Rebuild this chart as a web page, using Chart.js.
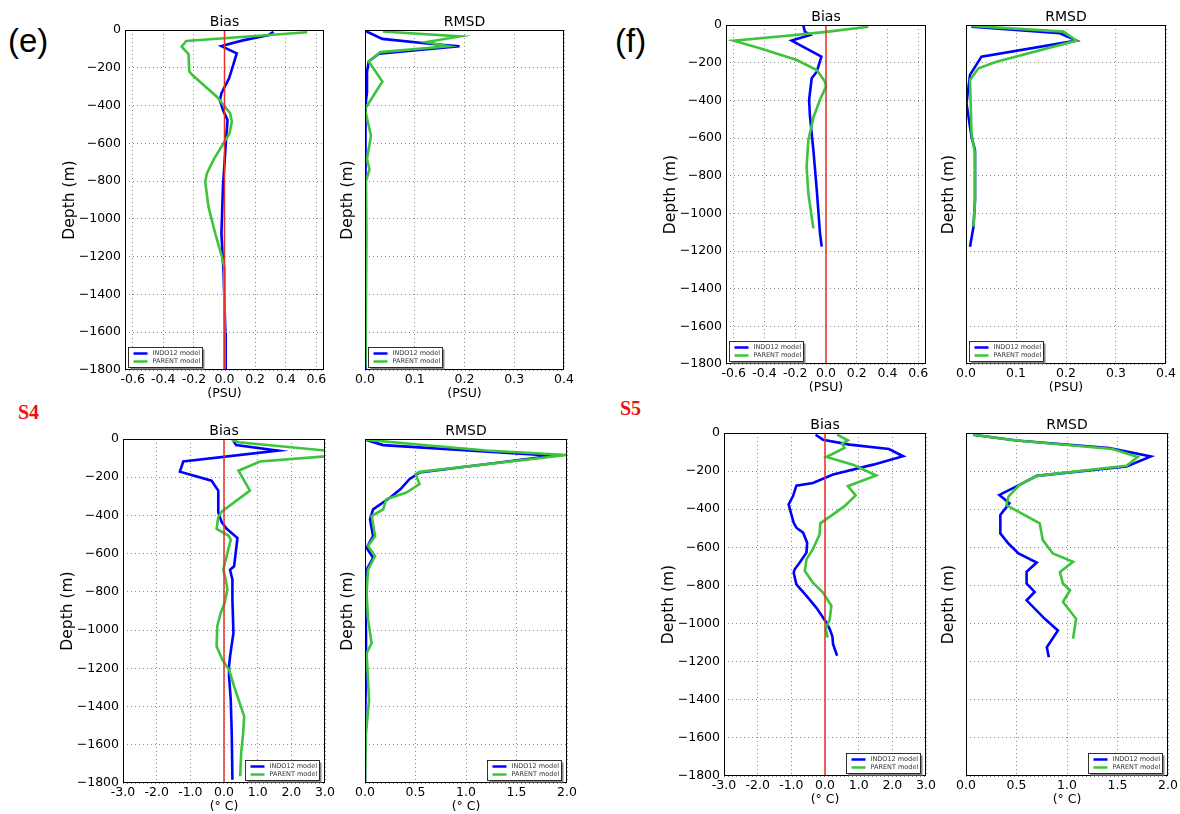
<!DOCTYPE html>
<html>
<head>
<meta charset="utf-8">
<script src="https://cdn.jsdelivr.net/npm/chart.js@4.4.1/dist/chart.umd.min.js"></script>
<style>
body { margin: 0; width: 1180px; height: 814px; overflow: hidden; background: #fff; position: relative; }
canvas { position: absolute; }
.tag { position: absolute; white-space: nowrap; }
.panel { font: 33px/33px 'Liberation Sans', Arial, sans-serif; color: #000; }
.station { font: bold 20px/20px 'Liberation Serif', 'Times New Roman', serif; color: #ee1111; }
</style>
</head>
<body>
<div class="tag panel" style="left:8px;top:24px">(e)</div>
<div class="tag panel" style="left:615px;top:24px">(f)</div>
<div class="tag station" style="left:18px;top:402px">S4</div>
<div class="tag station" style="left:620px;top:398px">S5</div>

<canvas id="eBias" width="285" height="396" style="left:53px;top:8px"></canvas>
<canvas id="eRmsd" width="243" height="396" style="left:335px;top:8px"></canvas>
<canvas id="fBias" width="286" height="395" style="left:654px;top:3px"></canvas>
<canvas id="fRmsd" width="244" height="395" style="left:936px;top:3px"></canvas>
<canvas id="s4Bias" width="288" height="400" style="left:51px;top:417px"></canvas>
<canvas id="s4Rmsd" width="246" height="400" style="left:335px;top:417px"></canvas>
<canvas id="s5Bias" width="288" height="399" style="left:652px;top:411px"></canvas>
<canvas id="s5Rmsd" width="246" height="399" style="left:936px;top:411px"></canvas>

<script>
// axis ticks and ranges
var depthTicks = [0, -200, -400, -600, -800, -1000, -1200, -1400, -1600, -1800];
var depthRange = [-1800, 0];
var saltBiasTicks = [-0.6, -0.4, -0.2, 0.0, 0.2, 0.4, 0.6];
var saltBiasRange = [-0.65, 0.65];
var saltRmsdTicks = [0.0, 0.1, 0.2, 0.3, 0.4];
var saltRmsdRange = [0, 0.4];
var tempBiasTicks = [-3, -2, -1, 0, 1, 2, 3];
var tempBiasRange = [-3, 3];
var tempRmsdTicks = [0, 0.5, 1, 1.5, 2];
var tempRmsdRange = [0, 2];

// zero reference line of the bias plots
var zeroDepth = [0, -1800];
var zeroVals = [0, 0];

// (e) salinity bias
var eBiasIndoDepth = [-9, -26, -55, -85, -124, -256, -335, -371, -424, -476, -582, -829, -1076, -1288, -1606, -1800];
var eBiasIndo = [0.32, 0.29, 0.12, -0.02, 0.08, 0.03, -0.02, -0.03, -0.01, 0.02, 0.01, -0.01, -0.02, -0.006, 0.006, 0.008];
var eBiasParentDepth = [-12, -58, -88, -127, -220, -238, -353, -441, -485, -547, -600, -688, -759, -803, -935, -1076, -1200, -1253, -1800];
var eBiasParent = [0.54, -0.25, -0.28, -0.235, -0.23, -0.21, -0.05, 0.037, 0.048, 0.033, -0.007, -0.072, -0.115, -0.126, -0.105, -0.061, -0.017, -0.002, 0.0];

// (e) salinity RMSD
var eRmsdIndoDepth = [-4, -47, -73, -86, -126, -167, -223, -330, -418, -560, -800, -1200, -1800];
var eRmsdIndo = [0.0, 0.035, 0.13, 0.19, 0.028, 0.0075, 0.004, 0.004, 0.0, 0.002, 0.001, 0.001, 0.0];
var eRmsdParentDepth = [-8, -34, -64, -86, -117, -167, -273, -418, -560, -685, -738, -800, -1074, -1782];
var eRmsdParent = [0.036, 0.191, 0.123, 0.167, 0.031, 0.0075, 0.035, 0.0, 0.012, 0.004, 0.009, 0.002, 0.003, 0.001];

// (f) salinity bias
var fBiasIndoDepth = [-5, -35, -53, -83, -168, -248, -283, -398, -487, -664, -876, -1106, -1177];
var fBiasIndo = [-0.147, -0.137, -0.104, -0.223, -0.03, -0.06, -0.093, -0.11, -0.104, -0.082, -0.06, -0.039, -0.028];
var fBiasParentDepth = [-9, -35, -53, -83, -124, -186, -239, -301, -327, -398, -487, -611, -752, -894, -1018, -1080];
var fBiasParent = [0.275, 0.015, -0.2, -0.6, -0.43, -0.19, -0.06, -0.006, 0.0, -0.04, -0.08, -0.115, -0.126, -0.115, -0.093, -0.082];

// (f) salinity RMSD
var fRmsdIndoDepth = [-9, -44, -83, -168, -265, -416, -593, -664, -929, -1071, -1177];
var fRmsdIndo = [0.011, 0.188, 0.221, 0.031, 0.008, 0.001, 0.011, 0.018, 0.018, 0.015, 0.008];
var fRmsdParentDepth = [-5, -35, -83, -195, -230, -292, -575, -681, -929, -1071];
var fRmsdParent = [0.011, 0.195, 0.221, 0.061, 0.025, 0.008, 0.011, 0.018, 0.018, 0.015];

// S4 temperature bias
var s4BiasIndoDepth = [-9, -31, -61, -118, -171, -218, -270, -383, -435, -470, -518, -666, -684, -736, -840, -1015, -1137, -1190, -1242, -1364, -1538, -1783];
var s4BiasIndo = [0.28, 0.36, 1.61, -1.21, -1.31, -0.37, -0.17, -0.17, -0.07, 0.08, 0.40, 0.30, 0.18, 0.25, 0.25, 0.28, 0.18, 0.15, 0.15, 0.2, 0.23, 0.25];
var s4BiasParentDepth = [-4, -17, -65, -88, -118, -166, -270, -380, -409, -470, -505, -527, -597, -684, -736, -788, -858, -911, -980, -1085, -1155, -1207, -1294, -1399, -1451, -1538, -1643, -1765];
var s4BiasParent = [0.23, 0.43, 3.3, 3.2, 1.07, 0.43, 0.77, -0.07, -0.17, -0.22, 0.13, 0.2, 0.1, -0.02, 0.05, 0.1, 0.02, -0.1, -0.2, -0.22, -0.05, 0.15, 0.3, 0.5, 0.6, 0.57, 0.51, 0.48];

// S4 temperature RMSD
var s4RmsdIndoDepth = [-3, -32, -88, -123, -175, -210, -263, -306, -368, -420, -508, -569, -622, -683, -770, -1016, -1190, -1541, -1800];
var s4RmsdIndo = [0.0, 0.18, 1.86, 1.33, 0.54, 0.44, 0.35, 0.25, 0.08, 0.05, 0.08, 0.016, 0.08, 0.016, 0.0, 0.01, 0.01, 0.0, 0.0];
var s4RmsdParentDepth = [-3, -30, -60, -84, -172, -184, -236, -280, -315, -368, -403, -508, -560, -613, -683, -805, -945, -1068, -1120, -1366, -1541, -1800];
var s4RmsdParent = [0.0, 0.55, 1.2, 2.0, 0.54, 0.5, 0.54, 0.41, 0.21, 0.18, 0.066, 0.1, 0.03, 0.1, 0.03, 0.016, 0.03, 0.066, 0.016, 0.04, 0.01, 0.0];

// S5 temperature bias
var s5BiasIndoDepth = [-9, -35, -61, -84, -122, -166, -218, -262, -276, -331, -375, -427, -471, -497, -523, -576, -628, -680, -715, -733, -794, -855, -916, -994, -1029, -1068, -1108, -1169];
var s5BiasIndo = [-0.28, -0.06, 0.73, 1.90, 2.32, 1.43, 0.24, -0.36, -0.85, -0.95, -1.08, -1.0, -0.93, -0.85, -0.65, -0.53, -0.55, -0.75, -0.9, -0.93, -0.85, -0.55, -0.26, 0.04, 0.14, 0.22, 0.24, 0.36];
var s5BiasParentDepth = [-9, -38, -56, -78, -126, -166, -223, -279, -328, -384, -427, -474, -532, -610, -663, -724, -785, -837, -907, -977, -1029, -1073];
var s5BiasParent = [0.36, 0.68, 0.51, 0.58, 0.04, 0.83, 1.52, 0.68, 0.91, 0.58, 0.24, -0.14, -0.16, -0.36, -0.55, -0.6, -0.36, -0.06, 0.19, 0.14, 0.02, 0.08];

// S5 temperature RMSD
var s5RmsdIndoDepth = [-9, -39, -79, -123, -176, -225, -272, -325, -369, -430, -527, -580, -632, -680, -729, -790, -834, -878, -975, -1036, -1124, -1177];
var s5RmsdIndo = [0.07, 0.5, 1.42, 1.83, 1.59, 0.7, 0.53, 0.33, 0.43, 0.34, 0.34, 0.42, 0.52, 0.7, 0.6, 0.6, 0.68, 0.6, 0.78, 0.91, 0.8, 0.82];
var s5RmsdParentDepth = [-9, -39, -84, -126, -172, -225, -272, -334, -378, -474, -562, -632, -676, -729, -790, -825, -887, -975, -1080];
var s5RmsdParent = [0.07, 0.5, 1.45, 1.7, 1.59, 0.7, 0.53, 0.42, 0.4, 0.73, 0.76, 0.86, 1.06, 0.93, 0.96, 1.03, 0.96, 1.09, 1.06];

var indoColor = '#0000ff';
var parentColor = '#3cc43c';
var zeroColor = '#e8302a';

Chart.defaults.font.family = "'DejaVu Sans', sans-serif";
Chart.defaults.color = '#000';

function points(depth, vals) {
    return depth.map(function (d, i) { return {x: vals[i], y: d}; });
}

function fixedTicks(list) {
    return function (axis) {
        axis.ticks = list.map(function (v) { return {value: v}; });
    };
}

// black frame round the plot area
var framePlugin = {
    id: 'frame',
    afterDatasetsDraw: function (chart) {
        var a = chart.chartArea, ctx = chart.ctx;
        ctx.save();
        ctx.strokeStyle = '#000';
        ctx.lineWidth = 1;
        ctx.strokeRect(Math.round(a.left) + 0.5, Math.round(a.top) + 0.5,
            Math.round(a.right - a.left) - 1, Math.round(a.bottom - a.top) - 1);
        ctx.restore();
    }
};

// small matplotlib-like legend box inside the plot area
var boxLegend = {
    id: 'boxLegend',
    afterDatasetsDraw: function (chart, args, opts) {
        var ctx = chart.ctx, a = chart.chartArea;
        var items = chart.data.datasets.filter(function (d) { return d.label !== 'zero'; });
        var w = 74, h = 20;
        var x = Math.round(opts.corner === 'right' ? a.right - w - 6 : a.left + 3) + 0.5;
        var y = Math.round(a.bottom - h - 3) + 0.5;
        ctx.save();
        ctx.fillStyle = '#8a8a8a';
        ctx.fillRect(x + 2, y + 2, w, h);
        ctx.fillStyle = '#fff';
        ctx.fillRect(x, y, w, h);
        ctx.strokeStyle = '#000';
        ctx.lineWidth = 0.8;
        ctx.strokeRect(x, y, w, h);
        ctx.font = "6.5px 'DejaVu Sans'";
        ctx.textBaseline = 'middle';
        items.forEach(function (d, i) {
            var ly = y + 6 + i * 8;
            ctx.strokeStyle = d.borderColor;
            ctx.lineWidth = 2.5;
            ctx.beginPath();
            ctx.moveTo(x + 5, ly);
            ctx.lineTo(x + 19, ly);
            ctx.stroke();
            ctx.fillStyle = '#333';
            ctx.fillText(d.label, x + 24, ly);
        });
        ctx.restore();
    }
};

function makePanel(canvasId, p) {
    var datasets = [
        {label: 'INDO12 model', data: points(p.indoDepth, p.indo), borderColor: indoColor, order: 2},
        {label: 'PARENT model', data: points(p.parentDepth, p.parent), borderColor: parentColor, order: 1}
    ];
    if (p.zero) {
        datasets.push({label: 'zero', data: points(zeroDepth, zeroVals), borderColor: zeroColor, borderWidth: 1.5, order: 0});
    }
    datasets.forEach(function (d) {
        d.showLine = true;
        d.pointRadius = 0;
        d.tension = 0;
        if (!d.borderWidth) d.borderWidth = 2.6;
    });
    var ctx = document.getElementById(canvasId).getContext('2d');
    return new Chart(ctx, {
        type: 'scatter',
        data: {datasets: datasets},
        plugins: [framePlugin, boxLegend],
        options: {
            responsive: false,
            animation: false,
            layout: {padding: {left: 0, right: 14, top: 0, bottom: 0}},
            plugins: {
                legend: {display: false},
                tooltip: {enabled: false},
                title: {
                    display: true,
                    text: p.title,
                    fullSize: false,
                    font: {size: 14, lineHeight: '16px', weight: 'normal'},
                    padding: {top: 6, bottom: 0}
                },
                boxLegend: {corner: p.corner}
            },
            scales: {
                x: {
                    type: 'linear',
                    min: p.range[0],
                    max: p.range[1],
                    afterBuildTicks: fixedTicks(p.ticks),
                    afterFit: function (s) { s.height = 34; },
                    grid: {color: '#8c8c8c', lineWidth: 1, drawTicks: false},
                    border: {display: false, dash: [1, 3]},
                    ticks: {
                        autoSkip: false,
                        maxRotation: 0,
                        padding: 2,
                        font: {size: 12.5},
                        callback: function (v) { return v.toFixed(1); }
                    },
                    title: {display: true, text: p.unit, font: {size: 12.5, lineHeight: '15px'}, padding: {top: 0, bottom: 3}}
                },
                y: {
                    type: 'linear',
                    min: depthRange[0],
                    max: depthRange[1],
                    afterBuildTicks: fixedTicks(depthTicks),
                    afterFit: function (s) { s.width = p.zero ? 72 : 30; },
                    grid: {color: '#8c8c8c', lineWidth: 1, drawTicks: false},
                    border: {display: false, dash: [1, 3]},
                    ticks: {
                        display: p.zero,
                        autoSkip: false,
                        padding: 4,
                        font: {size: 12.5},
                        callback: function (v) { return v === 0 ? '0' : '\u2212' + Math.abs(v); }
                    },
                    title: {display: true, text: 'Depth (m)', font: {size: 15.5, lineHeight: '18px'}, padding: {top: p.zero ? 8 : 3.5, bottom: 0}}
                }
            }
        }
    });
}

makePanel('eBias', {title: 'Bias', unit: '(PSU)', range: saltBiasRange, ticks: saltBiasTicks, zero: true, corner: 'left',
    indoDepth: eBiasIndoDepth, indo: eBiasIndo, parentDepth: eBiasParentDepth, parent: eBiasParent});
makePanel('eRmsd', {title: 'RMSD', unit: '(PSU)', range: saltRmsdRange, ticks: saltRmsdTicks, zero: false, corner: 'left',
    indoDepth: eRmsdIndoDepth, indo: eRmsdIndo, parentDepth: eRmsdParentDepth, parent: eRmsdParent});
makePanel('fBias', {title: 'Bias', unit: '(PSU)', range: saltBiasRange, ticks: saltBiasTicks, zero: true, corner: 'left',
    indoDepth: fBiasIndoDepth, indo: fBiasIndo, parentDepth: fBiasParentDepth, parent: fBiasParent});
makePanel('fRmsd', {title: 'RMSD', unit: '(PSU)', range: saltRmsdRange, ticks: saltRmsdTicks, zero: false, corner: 'left',
    indoDepth: fRmsdIndoDepth, indo: fRmsdIndo, parentDepth: fRmsdParentDepth, parent: fRmsdParent});
makePanel('s4Bias', {title: 'Bias', unit: '(\u00b0 C)', range: tempBiasRange, ticks: tempBiasTicks, zero: true, corner: 'right',
    indoDepth: s4BiasIndoDepth, indo: s4BiasIndo, parentDepth: s4BiasParentDepth, parent: s4BiasParent});
makePanel('s4Rmsd', {title: 'RMSD', unit: '(\u00b0 C)', range: tempRmsdRange, ticks: tempRmsdTicks, zero: false, corner: 'right',
    indoDepth: s4RmsdIndoDepth, indo: s4RmsdIndo, parentDepth: s4RmsdParentDepth, parent: s4RmsdParent});
makePanel('s5Bias', {title: 'Bias', unit: '(\u00b0 C)', range: tempBiasRange, ticks: tempBiasTicks, zero: true, corner: 'right',
    indoDepth: s5BiasIndoDepth, indo: s5BiasIndo, parentDepth: s5BiasParentDepth, parent: s5BiasParent});
makePanel('s5Rmsd', {title: 'RMSD', unit: '(\u00b0 C)', range: tempRmsdRange, ticks: tempRmsdTicks, zero: false, corner: 'right',
    indoDepth: s5RmsdIndoDepth, indo: s5RmsdIndo, parentDepth: s5RmsdParentDepth, parent: s5RmsdParent});
</script>
</body>
</html>
